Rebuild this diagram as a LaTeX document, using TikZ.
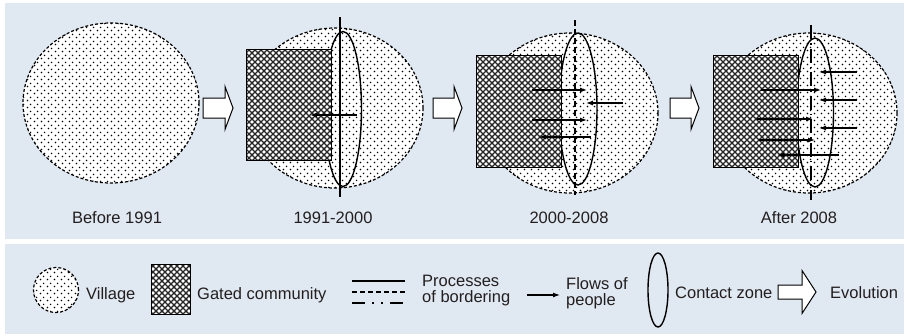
\documentclass[tikz,border=0pt]{standalone}
\usepackage{fontspec}
\setmainfont{Liberation Sans}
\usetikzlibrary{positioning,shapes.geometric,patterns.meta,arrows.meta}

\definecolor{panelbg}{RGB}{224,232,241}
\definecolor{inkgray}{RGB}{35,31,32}

\tikzdeclarepattern{
	name=villagedots,
	type=uncolored,
	bounding box={(0pt,0pt) and (6.5pt,6.5pt)},
	tile size={(6.5pt,6.5pt)},
	code={\fill (1.6pt,1.6pt) circle (.85pt) (4.85pt,4.85pt) circle (.85pt);}
}
\tikzdeclarepattern{
	name=gatedhatch,
	type=uncolored,
	bounding box={(-1pt,-1pt) and (7pt,7pt)},
	tile size={(6pt,6pt)},
	code={\draw[line width=1.25pt] (-1pt,-1pt) -- (7pt,7pt) (-1pt,7pt) -- (7pt,-1pt);}
}

\begin{document}
\begin{tikzpicture}[x=1pt,y=-1pt,
	village/.style={ellipse,draw,line width=1.2pt,dash pattern=on 3pt off 2pt,
		preaction={fill=white},pattern=villagedots,pattern color=black,inner sep=0pt},
	gated/.style={rectangle,draw,line width=.8pt,preaction={fill=white},
		pattern=gatedhatch,pattern color=black!85,inner sep=0pt},
	contact/.style={ellipse,draw,line width=1.4pt,inner sep=0pt},
	flow/.style={-{Latex[length=7pt,width=5pt]},line width=1.2pt},
	border/.style={line width=1.3pt},
	evo/.style={draw,line width=1pt,fill=white,line join=miter},
	lbl/.style={font=\fontsize{16.5}{16}\selectfont,text=inkgray,inner sep=0pt}]

	\useasboundingbox (0,0) rectangle (908,335);
	\fill[white] (0,0) rectangle (908,335);
	\fill[panelbg] (5,3) rectangle (904,239);
	\fill[panelbg] (5,244) rectangle (904,334);

	% before 1991
	\node[village,minimum width=176pt,minimum height=160pt] (v1) at (111,103) {};
	\node[lbl,anchor=base] (t1) at (117,223) {Before 1991};
	\draw[evo] (203,98) -- (225,98) -- (225,86.5) -- (233,108) -- (225,129.5)
		-- (225,118) -- (203,118) -- cycle;

	% 1991-2000
	\node[village,minimum width=176pt,minimum height=160pt] (v2) at (335,108) {};
	\node[contact,minimum width=37pt,minimum height=155pt] (c2) at (343,109) {};
	\node[gated,minimum width=85pt,minimum height=111pt] (g2) at (288.5,104.5) {};
	\draw[border] (340,17) -- (340,197);
	\draw[flow] (357,115) -- (310,115);
	\node[lbl,anchor=base] (t2) at (333,223) {1991-2000};
	\draw[evo] (433,98) -- (454,98) -- (454,86.5) -- (462,108) -- (454,129.5)
		-- (454,118) -- (433,118) -- cycle;

	% 2000-2008
	\node[village,minimum width=176pt,minimum height=160pt] (v3) at (570,113) {};
	\node[contact,minimum width=38pt,minimum height=152pt] (c3) at (578,109) {};
	\node[gated,minimum width=85pt,minimum height=112pt] (g3) at (518.5,111) {};
	\draw[border,dash pattern=on 6pt off 3pt] (575,20) -- (575,195);
	\draw[flow] (532,90) -- (587,90);
	\draw[flow] (623,103) -- (586,103);
	\draw[flow] (532,120) -- (587,120);
	\draw[flow] (591,137) -- (539,137);
	\node[lbl,anchor=base] (t3) at (569,223) {2000-2008};
	\draw[evo] (670,98) -- (691,98) -- (691,86.5) -- (699,108) -- (691,129.5)
		-- (691,118) -- (670,118) -- cycle;

	% after 2008
	\node[village,minimum width=176pt,minimum height=160pt] (v4) at (809,113) {};
	\node[contact,minimum width=37pt,minimum height=149pt] (c4) at (815,112.5) {};
	\node[gated,minimum width=85pt,minimum height=112pt] (g4) at (755.5,111) {};
	\draw[border,dash pattern=on 14pt off 4pt on 1.5pt off 4pt] (811,25) -- (811,200);
	\draw[flow] (857,72) -- (819,72);
	\draw[flow] (761,90) -- (821,90);
	\draw[flow] (857,100) -- (819,100);
	\draw[flow] (757,119) -- (813,119);
	\draw[flow] (857,128) -- (819,128);
	\draw[flow] (759,140) -- (815,140);
	\draw[flow] (839,155) -- (777,155);
	\node[lbl,anchor=base] (t4) at (799,223) {After 2008};

	% legend
	\node[village,minimum width=45pt,minimum height=45pt] (lv) at (56,290) {};
	\node[lbl,anchor=base west] (lvt) at (86,299) {Village};
	\node[gated,minimum width=39pt,minimum height=50pt] (lg) at (170.5,289) {};
	\node[lbl,anchor=base west] (lgt) at (197,299) {Gated community};
	\draw[border] (352,281) -- (405,281);
	\draw[border,dash pattern=on 5pt off 3pt] (352,292) -- (405,292);
	\draw[border,dash pattern=on 13pt off 7pt on 2pt off 7pt on 2pt off 7pt] (352,303) -- (405,303);
	\node[lbl,anchor=west,align=left] (lbt) at (422,291) {Processes\\of bordering};
	\coordinate (lf) at (527,295);
	\draw[flow] (lf) -- ++(33,0);
	\node[lbl,anchor=west,align=left] (lft) at (566,293) {Flows of\\people};
	\node[contact,minimum width=20pt,minimum height=74pt] (lc) at (658,290) {};
	\node[lbl,anchor=base west] (lct) at (675,298) {Contact zone};
	\draw[evo] (778,285) -- (802,285) -- (802,270.5) -- (816,292) -- (802,313.5)
		-- (802,299) -- (778,299) -- cycle;
	\node[lbl,anchor=base west] (let) at (830,298) {Evolution};

\end{tikzpicture}
\end{document}
